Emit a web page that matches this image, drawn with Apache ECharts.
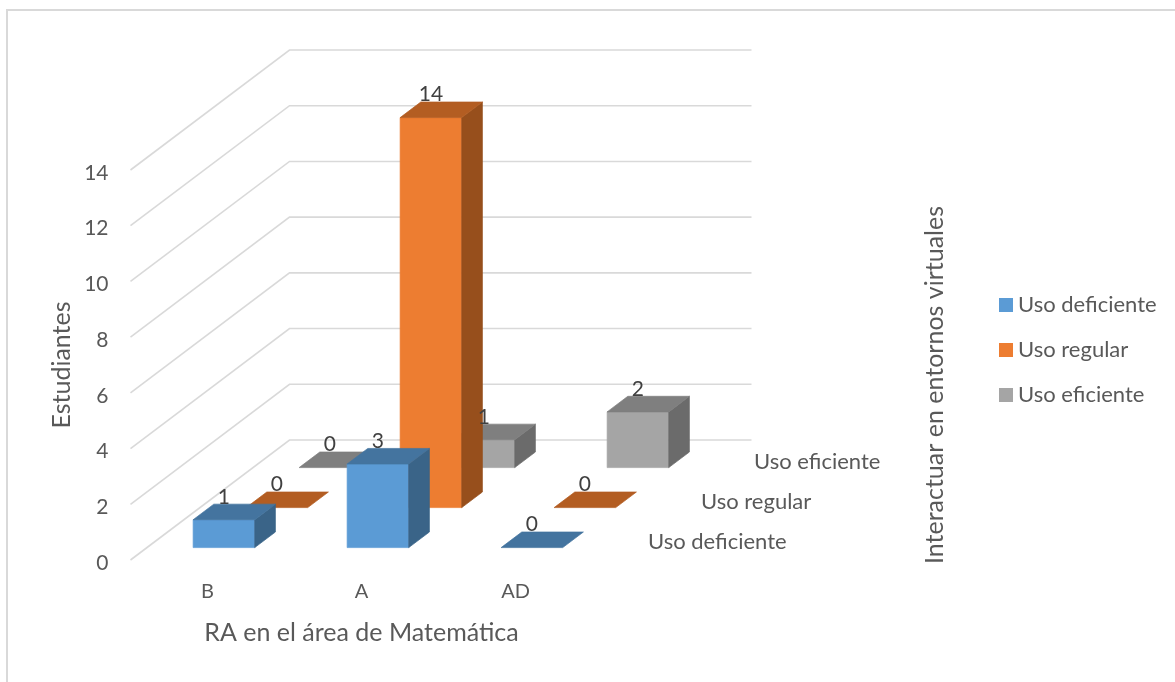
<!DOCTYPE html>
<html>
<head>
<meta charset="utf-8">
<style>html,body{margin:0;padding:0;background:#fff}#c{width:1175px;height:682px}</style>
<script src="https://cdn.jsdelivr.net/npm/echarts@6/dist/echarts.min.js"></script>
</head>
<body>
<div id="c"></div>
<script>
const categories = ['B', 'A', 'AD'];
const rows = ['Uso deficiente', 'Uso regular', 'Uso eficiente'];
const usoDeficiente = [1, 3, 0];
const usoRegular = [0, 14, 0];
const usoEficiente = [0, 1, 2];
const ticks = [0, 2, 4, 6, 8, 10, 12, 14];

const rowDX = 53, rowDY = -40;
const font = 'Lato, "Open Sans", sans-serif';
const fs = 22;
const palette = [
  { front: '#5B9BD5', top: '#44749F', side: '#3A6488' },
  { front: '#ED7D31', top: '#B35D22', side: '#974F1C' },
  { front: '#A5A5A5', top: '#7F7F7F', side: '#6B6B6B' }
];

function project(p, d) { return [p[0] + d * rowDX, p[1] + d * rowDY]; }

function face(points, color) {
  return { type: 'polygon', shape: { points }, style: { fill: color, stroke: color, lineWidth: 0.7 } };
}

function barRenderer(rowIndex) {
  const col = palette[rowIndex];
  return function (params, api) {
    const c = api.value(0), v = api.value(1);
    const band = api.size([1, 0])[0];
    const hw = band * 0.2;
    const base = api.coord([c, 0]), top = api.coord([c, v]);
    const d0 = rowIndex + 0.31, d1 = rowIndex + 0.70;
    const fbl = project([base[0] - hw, base[1]], d0);
    const fbr = project([base[0] + hw, base[1]], d0);
    const ftl = project([top[0] - hw, top[1]], d0);
    const ftr = project([top[0] + hw, top[1]], d0);
    const bbr = project([base[0] + hw, base[1]], d1);
    const btl = project([top[0] - hw, top[1]], d1);
    const btr = project([top[0] + hw, top[1]], d1);
    const children = [];
    if (v > 0) {
      children.push(face([fbl, fbr, ftr, ftl], col.front));
      children.push(face([fbr, bbr, btr, ftr], col.side));
    }
    children.push(face([ftl, ftr, btr, btl], col.top));
    children.push({
      type: 'text', z2: 100,
      style: {
        text: String(v), x: (ftl[0] + ftr[0]) / 2, y: ftl[1] - 23,
        align: 'center', verticalAlign: 'middle',
        fill: '#404040', font: '21px ' + font
      }
    });
    return { type: 'group', children };
  };
}

function wallRenderer(params, api) {
  const v = api.value(1);
  const cs = params.coordSys;
  const y = api.coord([0, v])[1];
  const p0 = [cs.x, y];
  const p1 = project(p0, 3);
  const p2 = [p1[0] + cs.width, p1[1]];
  return { type: 'polyline', shape: { points: [p0, p1, p2] }, style: { stroke: '#D9D9D9', lineWidth: 1.6, fill: null } };
}

function rowLabelRenderer(params, api) {
  const r = api.value(1);
  const cs = params.coordSys;
  const p = project([cs.x + cs.width, cs.y + cs.height], r + 0.5);
  return {
    type: 'text',
    style: { text: rows[r], x: p[0] + 29, y: p[1] + 2, align: 'left', verticalAlign: 'middle', fill: '#595959', font: fs + 'px ' + font }
  };
}

function barSeries(i, values) {
  return {
    name: rows[i], type: 'custom', coordinateSystem: 'cartesian2d', clip: false, z: 3,
    itemStyle: { color: palette[i].front },
    renderItem: barRenderer(i),
    encode: { x: 0, y: 1 },
    data: values.map((v, k) => [k, v])
  };
}

const chart = echarts.init(document.getElementById('c'), null, { renderer: 'canvas' });
chart.setOption({
  animation: false,
  backgroundColor: '#fff',
  textStyle: { fontFamily: font },
  tooltip: { show: false },
  grid: { left: 130.5, top: 170, width: 462, height: 390 },
  xAxis: {
    type: 'category', data: categories,
    axisLine: { show: false }, axisTick: { show: false }, splitLine: { show: false },
    axisLabel: { color: '#595959', fontSize: 20, fontFamily: font, margin: 22 },
    name: 'RA en el área de Matemática', nameLocation: 'middle', nameGap: 60,
    nameTextStyle: { color: '#595959', fontSize: 25, fontFamily: font }
  },
  yAxis: {
    type: 'value', min: 0, max: 14, interval: 2,
    axisLine: { show: false }, axisTick: { show: false }, splitLine: { show: false },
    axisLabel: { color: '#595959', fontSize: 21, fontFamily: font, margin: 22, verticalAlign: 'top', lineHeight: 6 },
    name: 'Estudiantes', nameLocation: 'middle', nameGap: 56, nameRotate: 90,
    nameTextStyle: { color: '#595959', fontSize: 25, fontFamily: font }
  },
  legend: {
    data: rows, orient: 'vertical', left: 999, top: 293, padding: 0, itemWidth: 14, itemHeight: 14, itemGap: 21,
    icon: 'rect', selectedMode: false,
    textStyle: { color: '#595959', fontSize: fs, fontFamily: font, lineHeight: 24 }
  },
  graphic: [
    { type: 'rect', silent: true, z: -10, shape: { x: 7, y: 10, width: 1400, height: 900 }, style: { fill: null, stroke: '#D9D9D9', lineWidth: 2 } },
    { type: 'text', silent: true, x: 935, y: 385, rotation: Math.PI / 2,
      style: { text: 'Interactuar en entornos virtuales', align: 'center', verticalAlign: 'middle', fill: '#595959', font: '25px ' + font } }
  ],
  series: [
    { name: 'walls', type: 'custom', coordinateSystem: 'cartesian2d', clip: false, z: 1, renderItem: wallRenderer, encode: { x: 0, y: 1 }, data: ticks.map(t => [0, t]) },
    { name: 'rowLabels', type: 'custom', coordinateSystem: 'cartesian2d', clip: false, z: 2, renderItem: rowLabelRenderer, encode: { x: 0 }, data: rows.map((r, i) => [0, i]) },
    barSeries(2, usoEficiente),
    barSeries(1, usoRegular),
    barSeries(0, usoDeficiente)
  ]
});
</script>
</body>
</html>
